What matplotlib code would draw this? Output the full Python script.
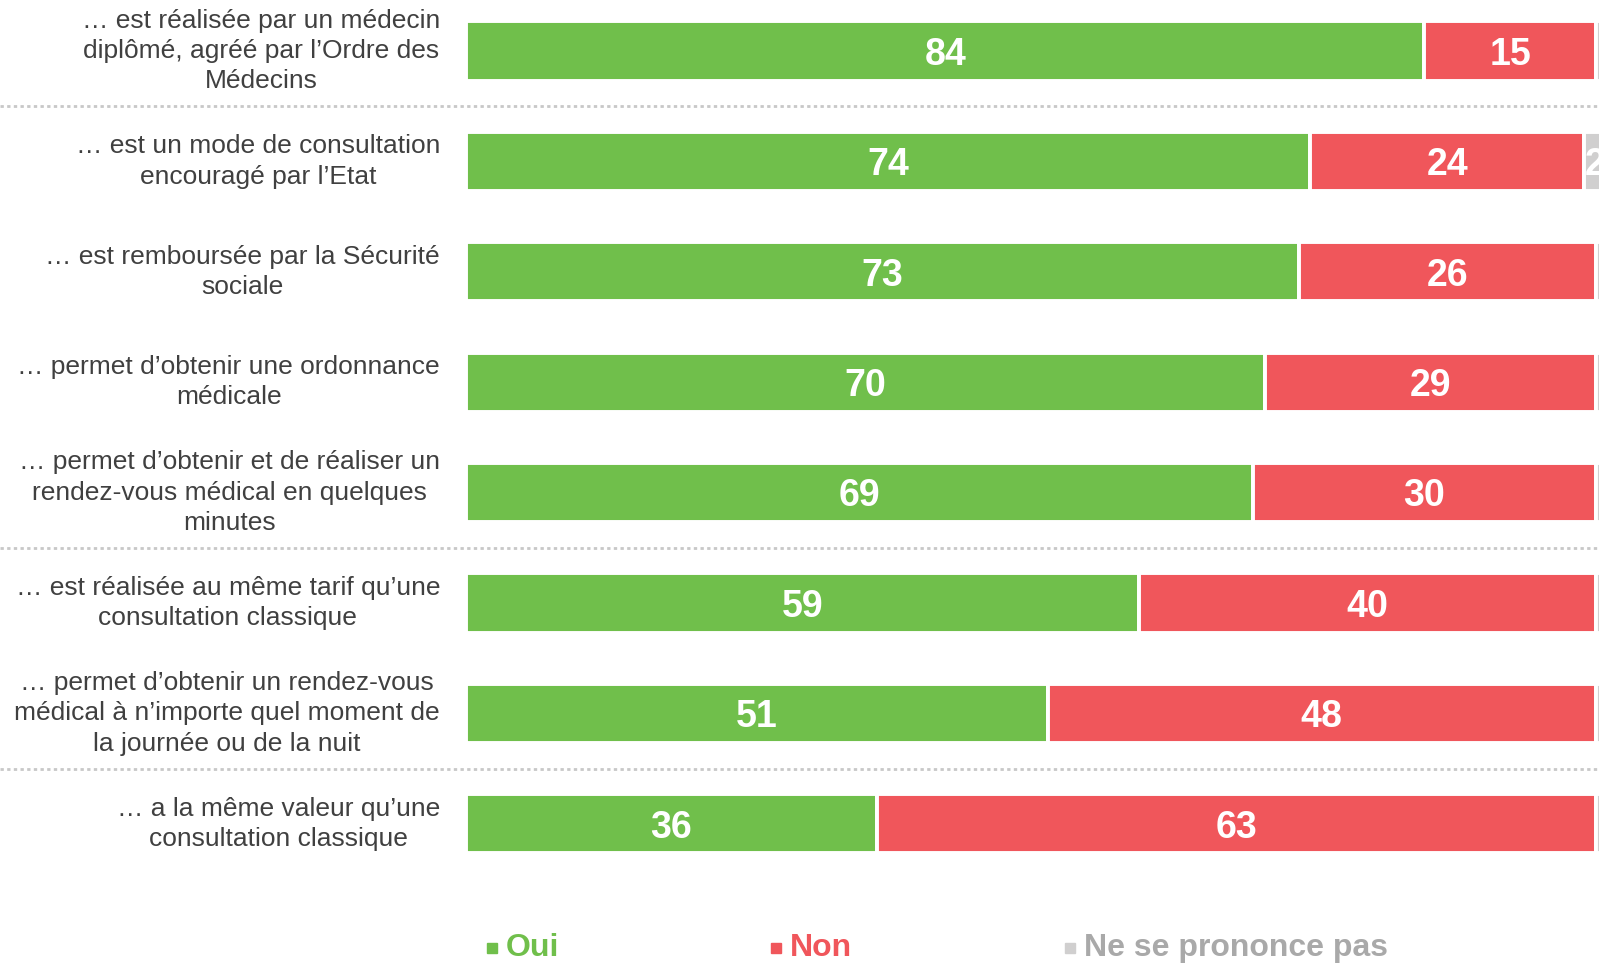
import matplotlib.pyplot as plt
import matplotlib.transforms as mtransforms
from matplotlib.lines import Line2D

plt.rcParams['font.family'] = ['Liberation Sans', 'DejaVu Sans']

# Items and shares (%)
items = [
    "… est réalisée par un médecin\ndiplômé, agréé par l’Ordre des\nMédecins",
    "… est un mode de consultation\nencouragé par l’Etat",
    "… est remboursée par la Sécurité\nsociale",
    "… permet d’obtenir une ordonnance\nmédicale",
    "… permet d’obtenir et de réaliser un\nrendez-vous médical en quelques\nminutes",
    "… est réalisée au même tarif qu’une\nconsultation classique",
    "… permet d’obtenir un rendez-vous\nmédical à n’importe quel moment de\nla journée ou de la nuit",
    "… a la même valeur qu’une\nconsultation classique",
]
oui = [84, 74, 73, 70, 69, 59, 51, 36]
non = [15, 24, 26, 29, 30, 40, 48, 63]
nsp = [1, 2, 1, 1, 1, 1, 1, 1]
series_names = ["Oui", "Non", "Ne se prononce pas"]

GREEN = "#70bf4b"
RED = "#f0565b"
GREY = "#d0cfcf"
colors = [GREEN, RED, GREY]
text_colors = [GREEN, RED, "#a9a9a9"]

W, H = 1599, 963
fig = plt.figure(figsize=(W / 100, H / 100), dpi=100)
# bars start at x=466px, 100% would end at ~1607px
ax = fig.add_axes([466 / W, 0, 1 - 466 / W, 1])
ax.set_xlim(0, (W - 466) / 11.41)
ax.set_ylim((H - 51) / 110.4, -51 / 110.4)
ax.axis("off")

ypos = list(range(len(items)))
left = [0] * len(items)
for vals, col in zip([oui, non, nsp], colors):
    ax.barh(ypos, vals, left=left, height=0.535, color=col,
            edgecolor="white", linewidth=2.8)
    for y, v, l in zip(ypos, vals, left):
        if v >= 2:
            ax.text(l + v / 2, y + 0.035, str(v), ha="center", va="center",
                    color="white", fontsize=27, fontweight="bold")
    left = [a + b for a, b in zip(left, vals)]

trans = mtransforms.blended_transform_factory(fig.transFigure, ax.transData)
for y, lab in zip(ypos, items):
    fig.text(440 / W, y, lab, ha="right", va="center", multialignment="center",
             fontsize=19, color="#404040", linespacing=1.34, transform=trans)

for ys in [0.5, 4.5, 6.5]:
    fig.add_artist(Line2D([0, 1], [ys, ys], transform=trans, color="#c8c8c8",
                          linestyle=(0, (1.2, 1.2)), linewidth=2))

# legend
leg_x = [492, 776, 1070]
leg_y = 1 - 948 / H
for x, name, col, tcol in zip(leg_x, series_names, colors, text_colors):
    fig.patches.append(plt.Rectangle(((x - 5) / W, leg_y - 5 / H), 10 / W, 10 / H,
                                     transform=fig.transFigure, color=col))
    fig.text((x + 14) / W, leg_y, name, ha="left", va="center", fontsize=23,
             fontweight="bold", color=tcol)

fig.savefig("out.png", dpi=100)
